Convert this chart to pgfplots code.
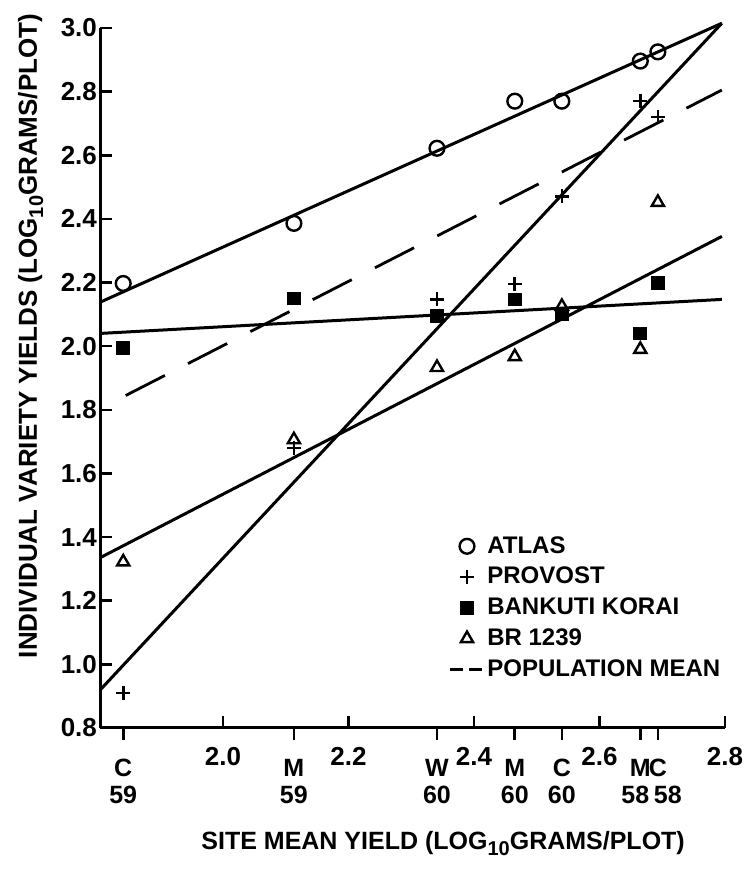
\documentclass[border=0pt]{standalone}
\usepackage{fontspec}
\setmainfont{Liberation Sans}
\usepackage{pgfplots}
\pgfplotsset{compat=1.18}
\newcommand{\sub}{\raisebox{-0.45ex}{\fontsize{10}{10}\selectfont 10}}
\begin{document}
\begin{tikzpicture}
\begin{axis}[
  scale only axis, width=312.5pt, height=350pt,
  xmin=1.804, xmax=2.8, ymin=0.8, ymax=3.0,
  axis x line*=bottom, axis y line*=left,
  axis line style={line width=1.5pt},
  clip=false,
  xtick={2.0,2.2,2.4,2.6,2.8},
  ytick={0.8,1.0,1.2,1.4,1.6,1.8,2.0,2.2,2.4,2.6,2.8,3.0},
  tick align=inside, major tick length=6pt,
  every tick/.style={line width=1.3pt, black},
  /pgf/number format/.cd, fixed, fixed zerofill, precision=1, assume math mode=true, /pgfplots/.cd,
  tick label style={font=\bfseries\fontsize{13}{15}\selectfont},
  yticklabel style={xshift=2pt},
  xticklabel style={anchor=base, yshift=-18.5pt},
  extra x ticks={1.841,2.113,2.341,2.465,2.540,2.665,2.693},
  extra x tick labels={C\\59, M\\59, W\\60, M\\60, C\\60, M\\\hspace*{-5pt}58, C\\58\hspace*{-10pt}},
  extra x tick style={tick align=outside, xticklabel style={align=center, anchor=base, yshift=-13pt, font=\bfseries\fontsize{12.5}{13.5}\selectfont}},
  every axis x label/.style={at={(axis description cs:0.549,-0.174)}, anchor=base},
  every axis y label/.style={at={(axis description cs:-0.101,0.56)}, anchor=base, rotate=90},
  label style={font=\bfseries\fontsize{13}{15}\selectfont},
  xlabel={\fontsize{12.5}{15}\selectfont SITE MEAN YIELD (LOG\sub GRAMS/PLOT)},
  ylabel={INDIVIDUAL VARIETY YIELDS (LOG\sub GRAMS/PLOT)},
  legend style={draw=none, fill=none, at={(0.557,0.28)}, anchor=north west,
    font=\bfseries\fontsize{12}{14}\selectfont, inner sep=0pt, row sep=1.5pt},
  legend cell align=left,
]
% regression lines
\addplot[line width=1.5pt, forget plot] coordinates {(1.804,2.138) (2.795,3.015)};
\addplot[line width=1.5pt, forget plot] coordinates {(1.804,0.919) (2.795,3.015)};
\addplot[line width=1.5pt, forget plot] coordinates {(1.804,2.040) (2.795,2.147)};
\addplot[line width=1.5pt, forget plot] coordinates {(1.804,1.335) (2.795,2.345)};
% points
\addplot[only marks, mark=o, mark size=3.7pt, mark options={line width=1.2pt, fill=white}]
  coordinates {(1.841,2.197) (2.113,2.386) (2.341,2.622) (2.465,2.770) (2.540,2.770) (2.665,2.896) (2.693,2.925)};
\addlegendentry{ATLAS}
\addplot[only marks, mark=+, mark size=3.5pt, mark options={line width=1.3pt}]
  coordinates {(1.841,0.910) (2.113,1.680) (2.341,2.147) (2.465,2.195) (2.540,2.471) (2.665,2.770) (2.693,2.720)};
\addlegendentry{PROVOST}
\addplot[only marks, mark=square*, mark size=3.2pt]
  coordinates {(1.841,1.995) (2.113,2.150) (2.341,2.094) (2.465,2.147) (2.540,2.100) (2.665,2.040) (2.693,2.200)};
\addlegendentry{BANKUTI KORAI}
\addplot[only marks, mark=triangle, mark size=3.5pt, mark options={line width=1.2pt, fill=white}]
  coordinates {(1.841,1.322) (2.113,1.706) (2.341,1.933) (2.465,1.967) (2.540,2.125) (2.665,1.990) (2.693,2.452)};
\addlegendentry{BR 1239}
\addplot[line width=1.4pt, dash pattern=on 22pt off 13pt,
  legend image code/.code={\draw[line width=1.4pt, dash pattern=on 6.5pt off 3pt] (0pt,0pt) -- (16pt,0pt);}]
  coordinates {(1.845,1.845) (2.795,2.805)};
\addlegendentry{POPULATION MEAN}
\end{axis}
\pgfresetboundingbox
\path[use as bounding box] (-50pt,-71pt) rectangle (322pt,364pt);
\end{tikzpicture}
\end{document}
